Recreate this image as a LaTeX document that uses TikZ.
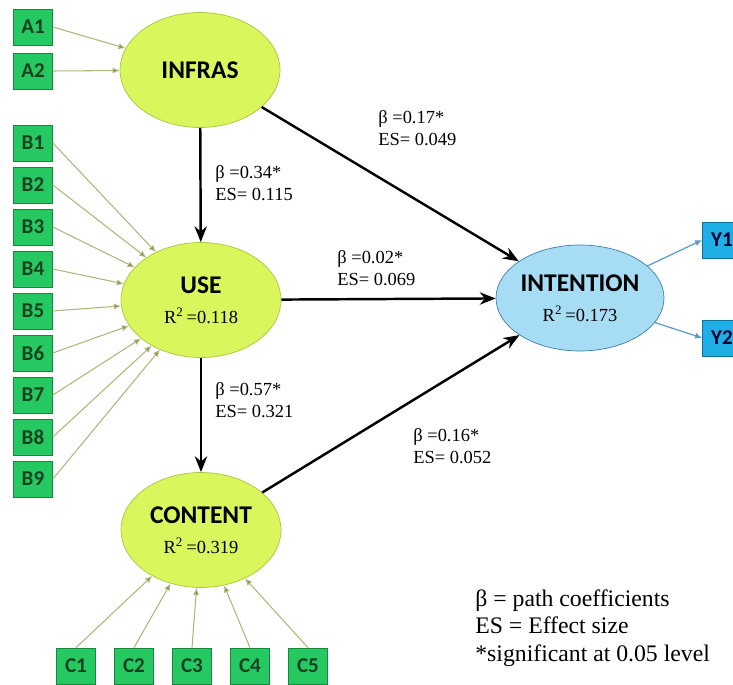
\documentclass[tikz,border=0pt]{standalone}
\usepackage{fontspec}
\setmainfont{Liberation Serif}
\newfontfamily\boxfont{Carlito}
\usetikzlibrary{shapes.geometric,arrows.meta}

\definecolor{limefill}{HTML}{D9F65C}
\definecolor{limeedge}{HTML}{A9C640}
\definecolor{itemgreen}{HTML}{26C862}
\definecolor{itemedge}{HTML}{14893C}
\definecolor{itemtext}{HTML}{174220}
\definecolor{intfill}{HTML}{A6DCF4}
\definecolor{intedge}{HTML}{3C7FA8}
\definecolor{itemblue}{HTML}{1DAFE6}
\definecolor{blueedge}{HTML}{10709A}
\definecolor{indline}{HTML}{B4B27A}
\definecolor{indtip}{HTML}{7E8A2A}
\definecolor{outline}{HTML}{5A9CC8}

\newcommand{\cname}[1]{{\boxfont\bfseries\fontsize{14.5}{16}\selectfont #1}}
\newcommand{\rsq}[1]{{\fontsize{10.5}{12}\selectfont R\textsuperscript{2}\,=#1}}

\begin{document}
\begin{tikzpicture}[x=0.02cm,y=-0.02cm,
	construct/.style={ellipse,draw=limeedge,fill=limefill,minimum width=3.2cm,minimum height=2.3cm,align=center,inner sep=0pt},
	item/.style={draw=itemedge,fill=itemgreen,minimum width=0.78cm,minimum height=0.72cm,inner sep=0pt,text=itemtext,font=\boxfont\bfseries\fontsize{12}{14}\selectfont},
	yitem/.style={item,draw=blueedge,fill=itemblue,text=black!80!blue},
	ind/.style={draw=indline,line width=0.6pt,-{Latex[length=4pt,width=3.5pt,fill=indtip]}},
	path/.style={draw=black,line width=1.4pt,-{Stealth[length=9pt,width=7pt]}},
	coef/.style={anchor=west,align=left,font=\fontsize{10.5}{12.5}\selectfont,inner sep=0pt}]

	\clip (0,0) rectangle (733,685);

	% Constructs
	\node[construct] (infras) at (200,70) {\cname{INFRAS}};
	\node[construct] (use) at (201,300) {\cname{USE}\\[5pt]\rsq{0.118}};
	\node[construct] (content) at (201,530) {\cname{CONTENT}\\[5pt]\rsq{0.319}};
	\node[construct,fill=intfill,draw=intedge,minimum width=2.72cm,minimum height=2.12cm] (intent) at (580,298) {\cname{INTENTION}\\[5pt]\rsq{0.173}};

	% Indicators
	\foreach \i/\y in {1/27, 2/71} {
		\node[item] (a\i) at (33,\y) {A\i};
		\draw[ind] (a\i.east) -- (infras);
	}
	\foreach \i in {1,...,9} {
		\node[item] (b\i) at (33,143+42*\i-42) {B\i};
		\draw[ind] (b\i.east) -- (use);
	}
	\foreach \i in {1,...,5} {
		\node[item] (c\i) at (76+58*\i-58,666) {C\i};
		\draw[ind] (c\i.north) -- (content);
	}
	\foreach \i/\y in {1/240, 2/338} {
		\node[yitem] (y\i) at (722,\y) {Y\i};
		\draw[draw=outline,line width=0.7pt,-{Latex[length=4pt,width=3.5pt]}] (intent) -- (y\i.west);
	}

	% Paths
	\draw[path] (infras) -- (use);
	\draw[path] (use) -- (content);
	\draw[path] (infras) -- (intent);
	\draw[path] (use) -- (intent);
	\draw[path] (content) -- (intent);

	% Coefficients
	\node[coef] (k1) at (378,128) {β =0.17*\\ES= 0.049};
	\node[coef] (k2) at (215,183) {β =0.34*\\ES= 0.115};
	\node[coef] (k3) at (337,268) {β =0.02*\\ES= 0.069};
	\node[coef] (k4) at (215,400) {β =0.57*\\ES= 0.321};
	\node[coef] (k5) at (413,446) {β =0.16*\\ES= 0.052};

	% Legend
	\node[coef,font=\fontsize{13.5}{15.5}\selectfont] (legend) at (475,628) {β = path coefficients\\ES = Effect size\\*significant at 0.05 level};

\end{tikzpicture}
\end{document}
